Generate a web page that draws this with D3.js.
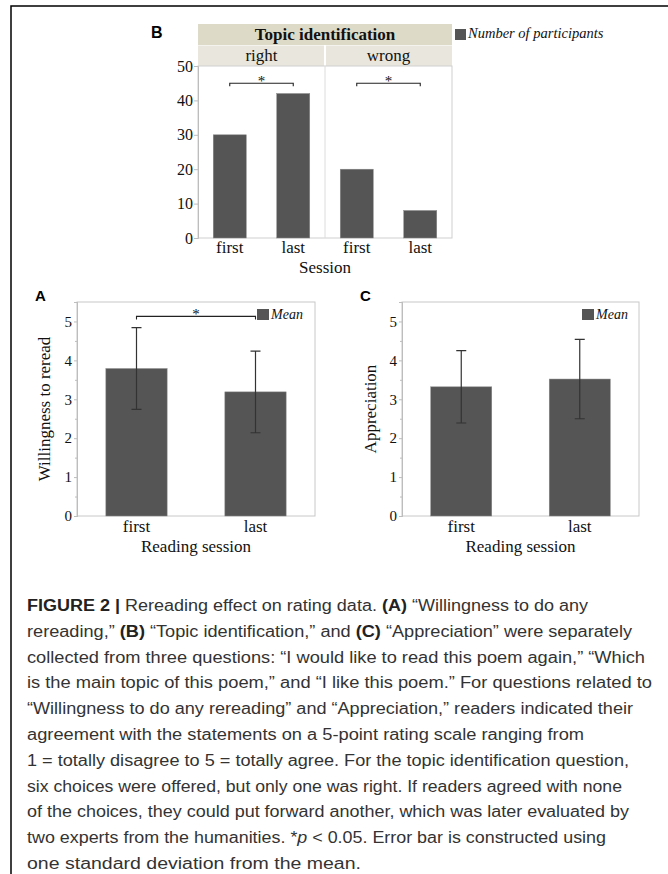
<!DOCTYPE html>
<html>
<head>
<meta charset="utf-8">
<script src="https://cdn.jsdelivr.net/npm/d3@7"></script>
<style>
  body { margin: 0; background: #fff; }
  svg { display: block; }
</style>
</head>
<body>
<script>
// ---- data ----
const sessions = ["first", "last"];
const topicGroups = ["right", "wrong"];
const topicCounts = [[30, 42], [20, 8]];
const topicTicks = [0, 10, 20, 30, 40, 50];
const rereadMean = [3.79, 3.19];
const rereadSd = [1.05, 1.05];
const appreciationMean = [3.32, 3.52];
const appreciationSd = [0.93, 1.02];
const ratingTicks = [0, 1, 2, 3, 4, 5];
const ratingMinor = [0.5, 1.5, 2.5, 3.5, 4.5];

const captionLines = [
  [["FIGURE 2 | ", "b"], ["Rereading effect on rating data. "], ["(A)", "b"], [" \u201cWillingness to do any"]],
  [["rereading,\u201d "], ["(B)", "b"], [" \u201cTopic identification,\u201d and "], ["(C)", "b"], [" \u201cAppreciation\u201d were separately"]],
  [["collected from three questions: \u201cI would like to read this poem again,\u201d \u201cWhich"]],
  [["is the main topic of this poem,\u201d and \u201cI like this poem.\u201d For questions related to"]],
  [["\u201cWillingness to do any rereading\u201d and \u201cAppreciation,\u201d readers indicated their"]],
  [["agreement with the statements on a 5-point rating scale ranging from"]],
  [["1 = totally disagree to 5 = totally agree. For the topic identification question,"]],
  [["six choices were offered, but only one was right. If readers agreed with none"]],
  [["of the choices, they could put forward another, which was later evaluated by"]],
  [["two experts from the humanities. *"], ["p", "i"], [" < 0.05. Error bar is constructed using"]],
  [["one standard deviation from the mean."]]
];
// right edge of each caption line in the figure
const captionEnds = [588, 632, 645, 652, 633, 584, 629, 622, 629, 606, 361];

const W = 668, H = 874;
const serif = "'Liberation Serif', 'Times New Roman', serif";
const sans = "'Liberation Sans', Arial, sans-serif";
const barColor = "#555555";

const svg = d3.select("body").append("svg").attr("width", W).attr("height", H);
svg.append("rect").attr("width", W).attr("height", H).attr("fill", "#fff");

// page frame (left + top rule)
svg.append("path").attr("d", "M11," + H + "V6H" + W)
  .attr("fill", "none").attr("stroke", "#000").attr("stroke-width", 1.5);

function styleAxis(g, size) {
  g.attr("font-family", serif).attr("font-size", size);
  g.select(".domain").attr("stroke", "#bdbdbd");
  g.selectAll(".tick line").attr("stroke", "#bdbdbd");
  g.selectAll(".tick text").style("font-family", serif).style("font-size", size + "px").attr("fill", "#111");
}

function bracket(g, x1, x2, y) {
  g.append("path").attr("d", `M${x1},${y + 3}V${y}H${x2}V${y + 3}`)
    .attr("fill", "none").attr("stroke", "#222").attr("stroke-width", 1.1);
  g.append("text").attr("x", (x1 + x2) / 2).attr("y", y + 3).attr("text-anchor", "middle")
    .attr("font-family", serif).attr("font-size", 15).attr("fill", "#111").text("*");
}

// ---- panel B: topic identification ----
(function () {
  const left = 198, right = 452, top = 66, bottom = 238;
  const g = svg.append("g");
  const facet = d3.scaleBand().domain(topicGroups).range([left, right]);
  const x = d3.scaleBand().domain(sessions).range([0, facet.bandwidth()]).paddingInner(0.48).paddingOuter(0.24);
  const y = d3.scaleLinear().domain([0, 50]).range([bottom, top]);

  // header strips
  g.append("rect").attr("x", left).attr("y", 24).attr("width", right - left).attr("height", 21).attr("fill", "#dedac8");
  topicGroups.forEach(k => {
    g.append("rect").attr("x", facet(k) + (k === "wrong" ? 1 : 0)).attr("y", 45.5)
      .attr("width", facet.bandwidth() - 1).attr("height", 20.5).attr("fill", "#e9e7dd");
    g.append("text").attr("x", facet(k) + facet.bandwidth() / 2).attr("y", 61).attr("text-anchor", "middle")
      .attr("font-family", serif).attr("font-size", 17).attr("fill", "#111").text(k);
  });
  g.append("text").attr("x", (left + right) / 2).attr("y", 40).attr("text-anchor", "middle")
    .attr("font-family", serif).attr("font-size", 17).attr("font-weight", "bold").attr("fill", "#111")
    .text("Topic identification");

  // plot frame + facet divider
  g.append("rect").attr("x", left).attr("y", top).attr("width", right - left).attr("height", bottom - top)
    .attr("fill", "none").attr("stroke", "#cfcfcf");
  g.append("line").attr("x1", facet("wrong")).attr("x2", facet("wrong")).attr("y1", top).attr("y2", bottom)
    .attr("stroke", "#dcdcdc");

  const ax = g.append("g").attr("transform", `translate(${left},0)`)
    .call(d3.axisLeft(y).tickValues(topicTicks).tickFormat(d3.format("d")).tickSize(4).tickPadding(1));
  styleAxis(ax, 16);

  topicGroups.forEach((k, gi) => {
    sessions.forEach((s, si) => {
      g.append("rect").attr("x", facet(k) + x(s)).attr("y", y(topicCounts[gi][si]))
        .attr("width", x.bandwidth()).attr("height", bottom - y(topicCounts[gi][si]))
        .attr("fill", barColor).attr("stroke", "#8a8a8a").attr("stroke-width", 0.5);
      g.append("text").attr("x", facet(k) + x(s) + x.bandwidth() / 2).attr("y", 253)
        .attr("text-anchor", "middle").attr("font-family", serif).attr("font-size", 17).attr("fill", "#111").text(s);
    });
    const c1 = facet(k) + x("first") + x.bandwidth() / 2, c2 = facet(k) + x("last") + x.bandwidth() / 2;
    bracket(g, c1, c2, y(45));
  });

  g.append("text").attr("x", (left + right) / 2).attr("y", 273).attr("text-anchor", "middle")
    .attr("font-family", serif).attr("font-size", 17).attr("fill", "#111").text("Session");

  // legend
  g.append("rect").attr("x", 455).attr("y", 29).attr("width", 11).attr("height", 11).attr("fill", barColor);
  g.append("text").attr("x", 468).attr("y", 38).attr("font-family", serif).attr("font-style", "italic")
    .attr("font-size", 14.5).attr("fill", "#111").text("Number of participants");

  svg.append("text").attr("x", 151).attr("y", 38).attr("font-family", sans).attr("font-weight", "bold")
    .attr("font-size", 16).attr("fill", "#000").text("B");
})();

// ---- panels A and C: mean ratings with SD error bars ----
function ratingPanel(opt) {
  const top = 302, bottom = 516;
  const g = svg.append("g");
  const x = d3.scaleBand().domain(sessions).range([opt.left, opt.right]).paddingInner(0.485).paddingOuter(0.2425);
  const y = d3.scaleLinear().domain([0, 5.5]).range([bottom, top]);

  g.append("rect").attr("x", opt.left).attr("y", top).attr("width", opt.right - opt.left).attr("height", bottom - top)
    .attr("fill", "none").attr("stroke", "#c8c8c8");

  const ax = g.append("g").attr("transform", `translate(${opt.left},0)`)
    .call(d3.axisLeft(y).tickValues(ratingTicks).tickFormat(d3.format("d")).tickSize(3).tickPadding(2));
  styleAxis(ax, 15);
  const minor = g.append("g").attr("transform", `translate(${opt.left},0)`)
    .call(d3.axisLeft(y).tickValues(ratingMinor).tickSize(2).tickFormat(""));
  styleAxis(minor, 15);

  sessions.forEach((s, i) => {
    const cx = x(s) + x.bandwidth() / 2;
    g.append("rect").attr("x", x(s)).attr("y", y(opt.mean[i])).attr("width", x.bandwidth())
      .attr("height", bottom - y(opt.mean[i])).attr("fill", barColor)
      .attr("stroke", "#8a8a8a").attr("stroke-width", 0.5);
    const hi = y(opt.mean[i] + opt.sd[i]), lo = y(opt.mean[i] - opt.sd[i]);
    g.append("path").attr("d", `M${cx - 5},${hi}H${cx + 5}M${cx},${hi}V${lo}M${cx - 5},${lo}H${cx + 5}`)
      .attr("fill", "none").attr("stroke", "#333").attr("stroke-width", 1.2);
    g.append("text").attr("x", cx).attr("y", 532).attr("text-anchor", "middle")
      .attr("font-family", serif).attr("font-size", 17).attr("fill", "#111").text(s);
  });

  if (opt.bracket) {
    bracket(g, x("first") + x.bandwidth() / 2, x("last") + x.bandwidth() / 2, y(opt.bracket));
  }

  g.append("text").attr("x", (opt.left + opt.right) / 2).attr("y", 552).attr("text-anchor", "middle")
    .attr("font-family", serif).attr("font-size", 17).attr("fill", "#111").text("Reading session");
  g.append("text").attr("transform", `translate(${opt.labelX},409) rotate(-90)`).attr("text-anchor", "middle")
    .attr("font-family", serif).attr("font-size", 17).attr("fill", "#111").text(opt.yLabel);

  g.append("rect").attr("x", opt.legendX).attr("y", 309).attr("width", 12).attr("height", 11).attr("fill", barColor);
  g.append("text").attr("x", opt.legendX + 14).attr("y", 319).attr("font-family", serif).attr("font-style", "italic")
    .attr("font-size", 14).attr("fill", "#111").text("Mean");

  svg.append("text").attr("x", opt.letterX).attr("y", 301).attr("font-family", sans).attr("font-weight", "bold")
    .attr("font-size", 15).attr("fill", "#000").text(opt.letter);
}

ratingPanel({ left: 77, right: 315, mean: rereadMean, sd: rereadSd, yLabel: "Willingness to reread",
  labelX: 50, legendX: 257, letter: "A", letterX: 35, bracket: 5.13 });
ratingPanel({ left: 402, right: 639, mean: appreciationMean, sd: appreciationSd, yLabel: "Appreciation",
  labelX: 376, legendX: 582, letter: "C", letterX: 360 });

// ---- caption ----
const cap = svg.append("g").attr("font-family", sans).attr("font-size", 16).attr("fill", "#333");
captionLines.forEach((line, i) => {
  const t = cap.append("text").attr("x", 27).attr("y", 611 + i * 25.8)
    .attr("textLength", captionEnds[i] - 27).attr("lengthAdjust", "spacingAndGlyphs");
  line.forEach(([txt, st]) => {
    const ts = t.append("tspan").text(txt);
    if (st === "b") ts.attr("font-weight", "bold").attr("fill", "#222");
    if (st === "i") ts.attr("font-style", "italic");
  });
});
</script>
</body>
</html>
